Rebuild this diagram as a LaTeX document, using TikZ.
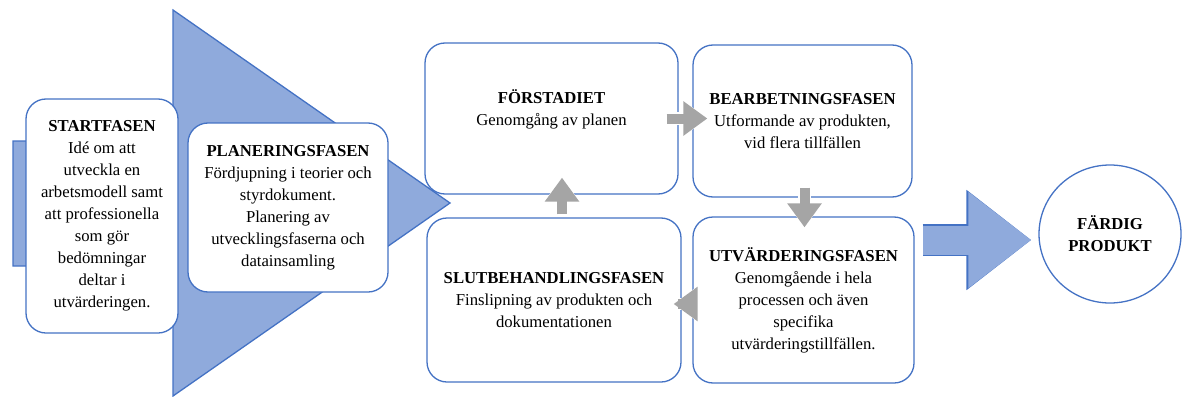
\documentclass[tikz,border=0pt]{standalone}
\usepackage{fontspec}
\setmainfont{Liberation Serif}
\usepackage{xcolor}
\usetikzlibrary{arrows.meta,shapes.geometric}
\definecolor{boxblue}{HTML}{4472C4}
\definecolor{fillblue}{HTML}{8FAADC}
\definecolor{arrowgray}{HTML}{A5A5A5}

\begin{document}
\begin{tikzpicture}[x=1pt, y=-1pt,
  phase/.style={draw=boxblue, line width=1.3pt, fill=white, rounded corners=20pt,
    align=center, font=\fontsize{16.7}{22}\selectfont, inner sep=2pt},
  grayarrow/.style={draw=arrowgray, line width=10pt, -{Triangle[width=33pt,length=24pt]},
    preaction={draw=white, line width=12.5pt, -{Triangle[width=37pt,length=26pt]}}},
  bluearrow/.style={draw=fillblue, line width=29pt, -{Triangle[width=92pt,length=63pt]},
    preaction={draw=boxblue, line width=31.6pt, -{Triangle[width=96pt,length=65pt]}}}]
  \useasboundingbox (0,0) rectangle (1182,396);
  \draw[fill=fillblue, draw=boxblue, line width=1.3pt]
    (13,141) -- (173,141) -- (173,10) -- (450,203) -- (173,396) -- (173,266) -- (13,266) -- cycle;

  \node[phase, minimum width=152pt, minimum height=234pt] (start) at (102,216)
    {\textbf{STARTFASEN}\\Idé om att\\utveckla en\\arbetsmodell samt\\att professionella\\som gör\\bedömningar\\deltar i\\utvärderingen.};
  \node[phase, minimum width=200pt, minimum height=169pt] (plan) at (288,207.5)
    {\textbf{PLANERINGSFASEN}\\Fördjupning i teorier och\\styrdokument.\\Planering av\\utvecklingsfaserna och\\datainsamling};
  \node[phase, minimum width=253pt, minimum height=151pt] (forst) at (551.5,118.5)
    {\textbf{FÖRSTADIET}\\Genomgång av planen\\\mbox{}};
  \node[phase, minimum width=219pt, minimum height=152pt] (bearb) at (802.5,121)
    {\textbf{BEARBETNINGSFASEN}\\Utformande av produkten,\\vid flera tillfällen};
  \node[phase, minimum width=221pt, minimum height=166pt] (utv) at (803.5,300)
    {\textbf{UTVÄRDERINGSFASEN}\\Genomgående i hela\\processen och även\\specifika\\utvärderingstillfällen.};
  \node[phase, minimum width=254pt, minimum height=164pt] (slut) at (554,300)
    {\textbf{SLUTBEHANDLINGSFASEN}\\Finslipning av produkten och\\dokumentationen};
  \node[draw=boxblue, line width=1.3pt, ellipse, minimum width=142pt, minimum height=138pt,
    align=center, font=\fontsize{16.7}{22}\selectfont\bfseries] (prod) at (1110,234) {FÄRDIG\\PRODUKT};

  \draw[grayarrow, shorten <=-12pt, shorten >=-15pt] (forst.east) -- (forst.east -| bearb.west);
  \draw[grayarrow, shorten <=-10pt, shorten >=-11pt] ([xshift=2pt]bearb.south) -- ([xshift=2pt]bearb.south |- utv.north);
  \draw[grayarrow, shorten <=-14pt, shorten >=-8pt] ([yshift=-4pt]utv.west) -- ([yshift=-4pt]utv.west -| slut.east);
  \draw[grayarrow, shorten <=3pt, shorten >=-17pt] ([xshift=8pt]slut.north) -- ([xshift=8pt]slut.north |- forst.south);
  \draw[bluearrow, shorten <=8pt, shorten >=7pt] ([yshift=-6pt]utv.east |- prod.west) -- ([yshift=-6pt]prod.west);
\end{tikzpicture}
\end{document}
